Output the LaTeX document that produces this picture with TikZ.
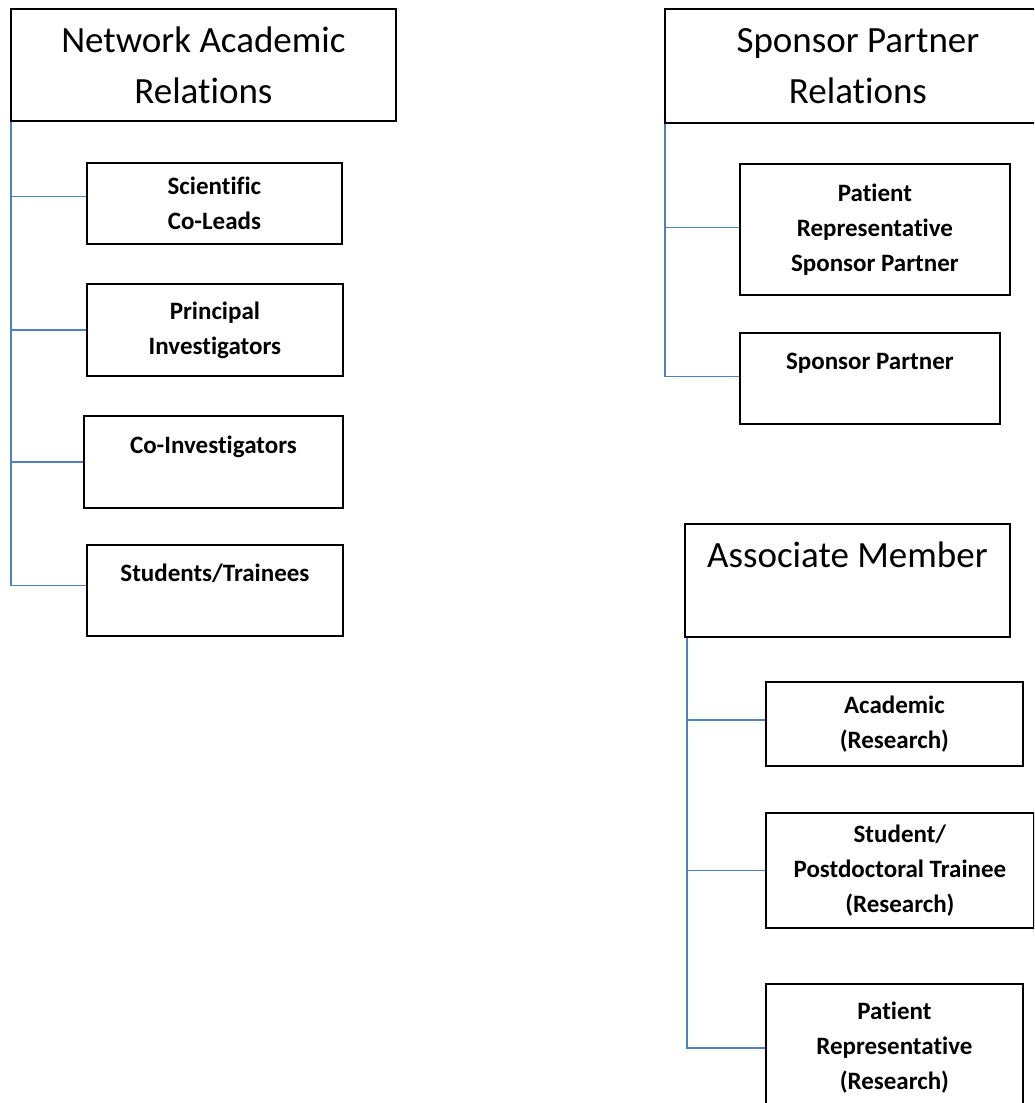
\documentclass[tikz,border=0pt]{standalone}
\usepackage{fontspec}
\setmainfont{Carlito}[Ligatures=NoCommon]
\usepackage{tikz}
\definecolor{linkblue}{RGB}{79,129,189}
\tikzset{
    headbox/.style={draw=black, line width=1.8pt, anchor=north west, inner sep=0pt, align=center, font=\fontsize{37}{51}\selectfont},
    itembox/.style={draw=black, line width=1.8pt, anchor=north west, inner sep=0pt, align=center, font=\fontsize{25}{35}\selectfont\bfseries},
    link/.style={draw=linkblue, line width=1.8pt}
}

\begin{document}
\begin{tikzpicture}[x=1pt,y=-1pt]
            \useasboundingbox (0,0) rectangle (1034,1103);
            \clip (0,0) rectangle (1034,1103);
            % network academic relations
            \node[headbox, minimum width=385pt, minimum height=112pt] (nar) at (10,8) {Network Academic\\Relations};
            \node[itembox, minimum width=255pt, minimum height=81pt] (sci) at (86,162) {Scientific\\Co-Leads};
            \node[itembox, minimum width=256pt, minimum height=92pt] (pri) at (86,283) {Principal\\Investigators};
            \node[itembox, minimum width=259pt, minimum height=92pt] (coi) at (83,415) {Co-Investigators\\\mbox{}};
            \node[itembox, minimum width=256pt, minimum height=91pt] (stt) at (86,544) {Students/Trainees\\\mbox{}};
            % sponsor partner relations
            \node[headbox, minimum width=386pt, minimum height=114pt] (spr) at (664,8) {Sponsor Partner\\Relations};
            \node[itembox, minimum width=270pt, minimum height=131pt] (prs) at (739,163) {Patient\\Representative\\Sponsor Partner};
            \node[itembox, minimum width=260pt, minimum height=91pt] (spa) at (739,332) {Sponsor Partner\\\mbox{}};
            % associate member
            \node[headbox, minimum width=325pt, minimum height=113pt] (asm) at (684,523) {Associate Member\\\mbox{}};
            \node[itembox, minimum width=257pt, minimum height=84pt] (aca) at (765,681) {Academic\\(Research)};
            \node[itembox, minimum width=268pt, minimum height=115pt] (stu) at (765,812) {Student/\\Postdoctoral Trainee\\(Research)};
            \node[itembox, minimum width=257pt, minimum height=128pt] (pat) at (765,983) {Patient\\Representative\\(Research)};
            % connectors
            \draw[link] ([xshift=1pt]nar.south west) |- ([yshift=7pt]sci.west);
            \draw[link] ([xshift=1pt]nar.south west) |- (pri.west);
            \draw[link] ([xshift=1pt]nar.south west) |- (coi.west);
            \draw[link] ([xshift=1pt]nar.south west) |- ([yshift=5pt]stt.west);
            \draw[link] ([xshift=1pt]spr.south west) |- ([yshift=2pt]prs.west);
            \draw[link] ([xshift=1pt]spr.south west) |- ([yshift=2pt]spa.west);
            \draw[link] ([xshift=3pt]asm.south west) |- ([yshift=4pt]aca.west);
            \draw[link] ([xshift=3pt]asm.south west) |- (stu.west);
            \draw[link] ([xshift=3pt]asm.south west) |- (pat.west);
\end{tikzpicture}
\end{document}
